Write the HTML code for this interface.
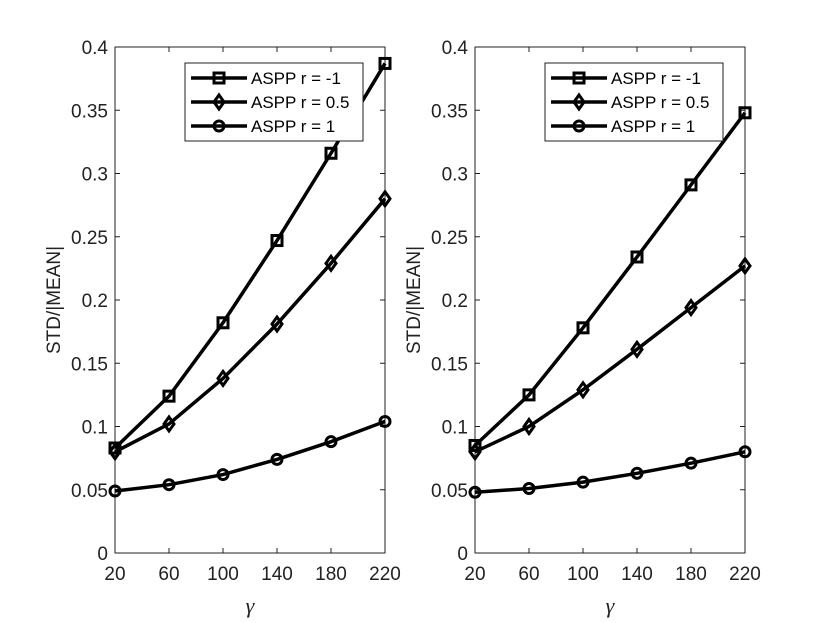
<!DOCTYPE html>
<html><head><meta charset="utf-8"><style>
body{margin:0;background:#fff;}
svg{display:block;font-family:"Liberation Sans",sans-serif;}
</style></head><body>
<svg id="c" width="830" height="623" viewBox="0 0 830 623"></svg>
<script>
const categories=[20,60,100,140,180,220];
const yTicks=[0,0.05,0.1,0.15,0.2,0.25,0.3,0.35,0.4];
const yTickLabels=["0","0.05","0.1","0.15","0.2","0.25","0.3","0.35","0.4"];
const seriesNames=["ASPP r = -1","ASPP r = 0.5","ASPP r = 1"];
const leftM1=[0.083,0.124,0.182,0.247,0.316,0.387];
const leftM05=[0.080,0.102,0.138,0.181,0.229,0.280];
const leftP1=[0.049,0.054,0.062,0.074,0.088,0.104];
const rightM1=[0.085,0.125,0.178,0.234,0.291,0.348];
const rightM05=[0.080,0.100,0.129,0.161,0.194,0.227];
const rightP1=[0.048,0.051,0.056,0.063,0.071,0.080];
const NS="http://www.w3.org/2000/svg";
const svg=document.getElementById('c');
function mk(t,a,p){const e=document.createElementNS(NS,t);for(const k in a)e.setAttribute(k,a[k]);(p||svg).appendChild(e);return e;}
const markers=['square','diamond','circle'];
function panel(x0,x1,name,data){
  const yT=47,yB=553;
  const g=mk('g',{});
  
  
  const X=v=>x0+(v-20)/200*(x1-x0);
  const Y=v=>yB-v/0.4*(yB-yT);
  const box=mk('rect',{x:x0,y:yT,width:x1-x0,height:yB-yT,fill:'none',stroke:'#222','stroke-width':1},g);
  
  
  yTicks.forEach((v,i)=>{
    mk('line',{x1:x0,x2:x0+5,y1:Y(v),y2:Y(v),stroke:'#222'},g);
    mk('line',{x1:x1,x2:x1-5,y1:Y(v),y2:Y(v),stroke:'#222'},g);
    const t=mk('text',{x:x0-7,y:Y(v)+7,'text-anchor':'end','font-size':19,fill:'#222'},g);
    t.textContent=yTickLabels[i];
    
    
  });
  categories.forEach(c=>{
    mk('line',{x1:X(c),x2:X(c),y1:yB,y2:yB-5,stroke:'#222'},g);
    mk('line',{x1:X(c),x2:X(c),y1:yT,y2:yT+5,stroke:'#222'},g);
    const t=mk('text',{x:X(c),y:yB+27,'text-anchor':'middle','font-size':19,fill:'#222'},g);
    t.textContent=c;
    
    
  });
  const xl=mk('text',{x:(x0+x1)/2,y:yB+60,'text-anchor':'middle','font-size':22,'font-style':'italic','font-family':'Liberation Serif,serif',fill:'#222'},g);
  xl.textContent='γ';
  
  
  const yl=mk('text',{x:0,y:0,transform:`translate(${x0-55},${(yT+yB)/2}) rotate(-90)`,'text-anchor':'middle','font-size':19,fill:'#222'},g);
  yl.textContent='STD/|MEAN|';
  
  
  function marker(type,x,y,p){
    if(type==='square')return mk('rect',{x:x-5,y:y-5,width:10,height:10,fill:'none',stroke:'#000','stroke-width':3},p);
    if(type==='diamond')return mk('polygon',{points:`${x},${y-7} ${x+5},${y} ${x},${y+7} ${x-5},${y}`,fill:'none',stroke:'#000','stroke-width':3},p);
    return mk('circle',{cx:x,cy:y,r:5,fill:'none',stroke:'#000','stroke-width':3},p);
  }
  data.forEach((s,si)=>{
    const sg=mk('g',{},g);
    
    
    mk('polyline',{points:s.map((v,i)=>X(categories[i])+','+Y(v)).join(' '),fill:'none',stroke:'#000','stroke-width':3.5},sg);
    s.forEach((v,i)=>{const m=marker(markers[si],X(categories[i]),Y(v),sg);
      
      });
  });
  const lx=x0+70,ly=63;
  const lg=mk('g',{},g);
  
  
  mk('rect',{x:lx,y:ly,width:178,height:78,fill:'#fff',stroke:'#222'},lg);
  seriesNames.forEach((n,i)=>{
    const yy=ly+15+i*24;
    mk('line',{x1:lx+6,x2:lx+62,y1:yy,y2:yy,stroke:'#000','stroke-width':3.5},lg);
    marker(markers[i],lx+34,yy,lg);
    const t=mk('text',{x:lx+66,y:yy+6,'font-size':17,fill:'#000'},lg);
    t.textContent=n;
    
    
  });
}
panel(115,385,'left-panel',[leftM1,leftM05,leftP1]);
panel(475,745,'right-panel',[rightM1,rightM05,rightP1]);
</script>
</body></html>
